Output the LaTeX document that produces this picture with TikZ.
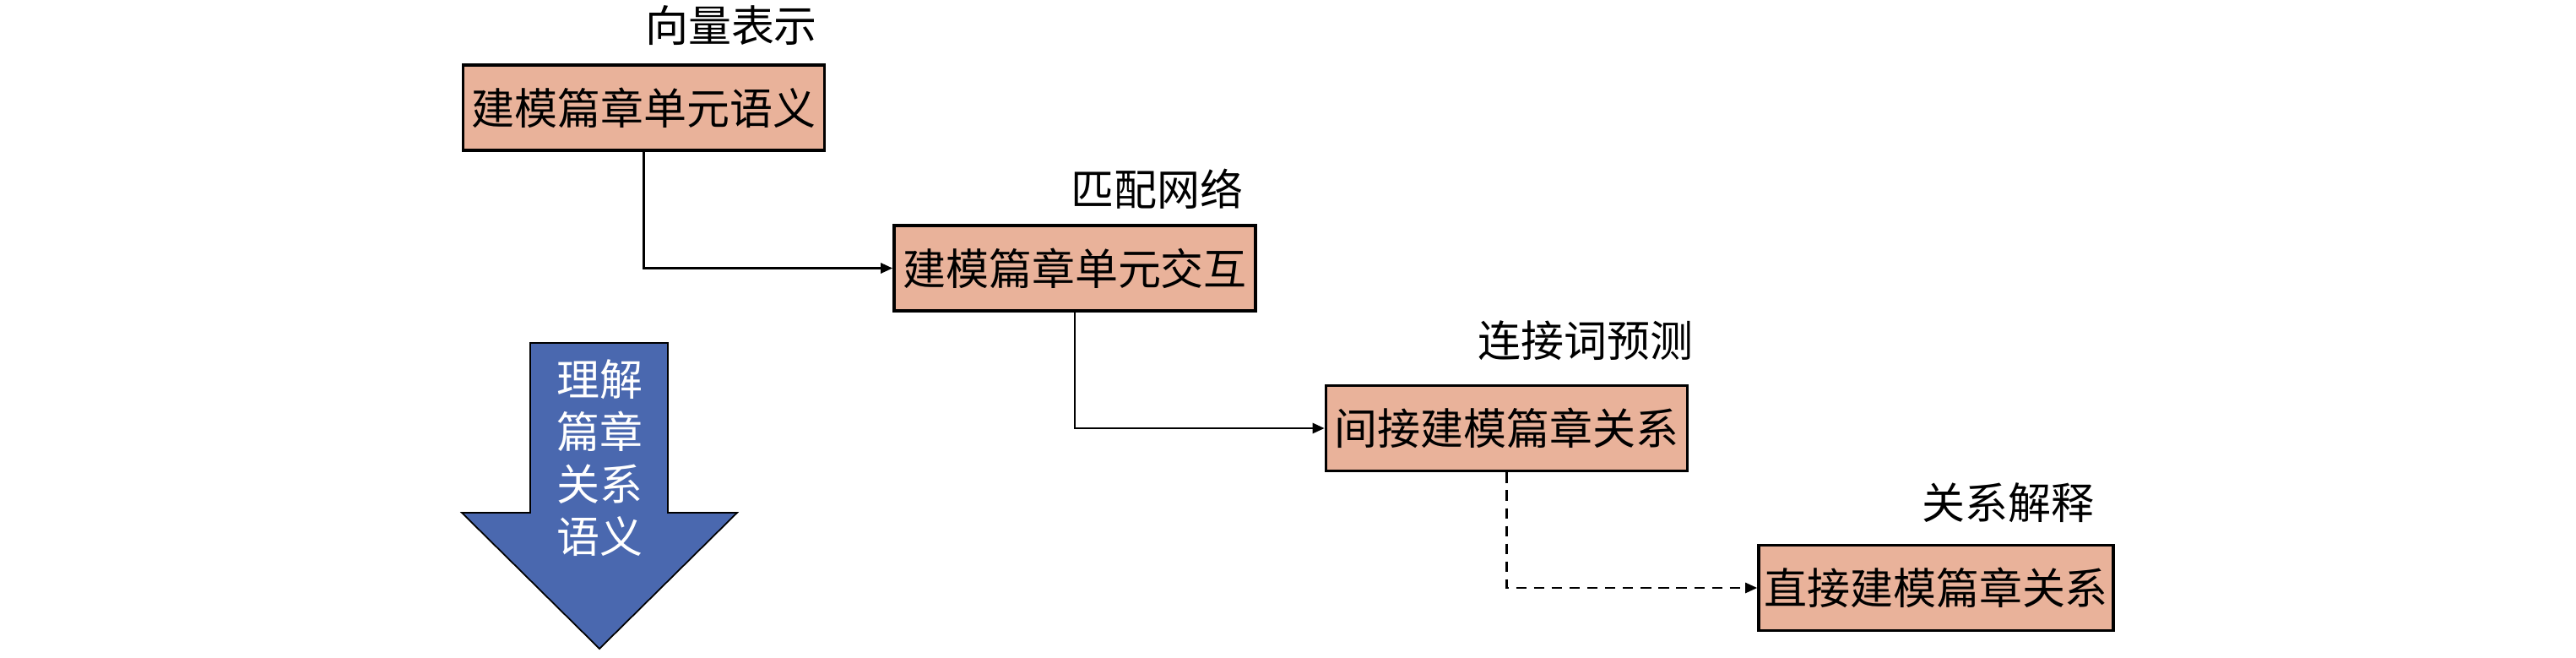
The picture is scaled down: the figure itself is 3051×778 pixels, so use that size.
\documentclass[tikz,border=0pt]{standalone}
\usepackage{fontspec}
\setmainfont{Noto Sans CJK SC}
\usetikzlibrary{arrows, arrows.meta}
\definecolor{boxfill}{RGB}{233,178,154}
\definecolor{arrowblue}{RGB}{74,104,175}

\begin{document}
\begin{tikzpicture}[x=0.01cm, y=-0.01cm,
    box/.style={draw, line width=1pt, fill=boxfill, minimum width=4.28cm, minimum height=1.01cm, inner sep=0pt, font=\fontsize{14.5pt}{17pt}\selectfont},
    lab/.style={inner sep=0pt, font=\fontsize{14.5pt}{17.6pt}\selectfont},
    conn/.style={line width=0.6pt, -{Triangle[length=4pt, width=3.5pt]}}]
      \useasboundingbox (0,0) rectangle (3051,778);

      \node[box] (b1) at (762.5,127.5) {建模篇章单元语义};
      \node[box] (b2) at (1273,317.5) {建模篇章单元交互};
      \node[box] (b3) at (1784.5,507) {间接建模篇章关系};
      \node[box, minimum width=4.2cm] (b4) at (2293,696) {直接建模篇章关系};

      \node[lab] (l1) at (866,30) {向量表示};
      \node[lab] (l2) at (1370,224) {匹配网络};
      \node[lab] (l3) at (1878,403) {连接词预测};
      \node[lab] (l4) at (2378,595) {关系解释};

      \draw[line width=0.5pt, fill=arrowblue] (628,406) -- (791,406) -- (791,607) -- (873,607) -- (710,768) -- (547,607) -- (628,607) -- cycle;
      \node[lab, text=white, align=center] (sem) at (710,542) {理解\\篇章\\关系\\语义};

      \draw[conn] (b1) |- (b2);
      \draw[conn] (b2) |- (b3);
      \draw[conn, dash pattern=on 3.5pt off 2.5pt] (b3) |- (b4);
    \end{tikzpicture}
\end{document}
